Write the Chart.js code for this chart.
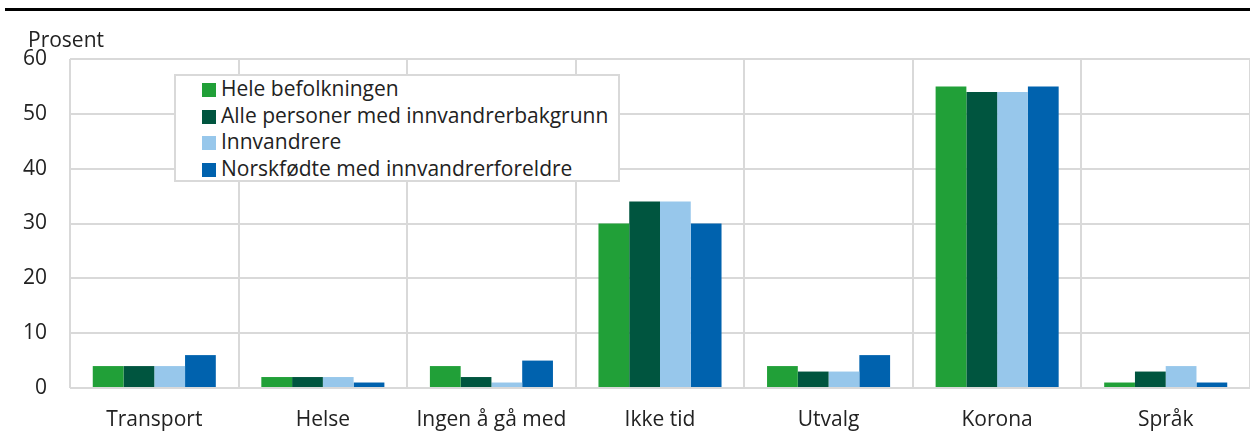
<!DOCTYPE html>
<html>
<head>
<meta charset="utf-8">
<script src="https://cdn.jsdelivr.net/npm/chart.js@4"></script>
<style>
    body { margin: 0; background: #fff; font-family: "Open Sans", sans-serif; color: #222; }
    #wrap { position: relative; width: 1250px; height: 438px; }
    #topline { position: absolute; left: 5px; right: 0; top: 8px; height: 3px; background: #000; }
    #unit { position: absolute; left: 28px; top: 26px; font-size: 21px; line-height: 26px; }
    #legend { position: absolute; left: 174px; top: 74px; width: 442px; height: 104px;
              border: 2px solid #d9d9d9; background: #fff; padding: 0; }
    #legend div { position: absolute; left: 26px; font-size: 21px; line-height: 24px; white-space: nowrap; }
    #legend span { display: inline-block; width: 14px; height: 14px; margin-right: 5px; vertical-align: -1px; }
</style>
</head>
<body>
<div id="wrap">
    <canvas id="barChart" width="1250" height="438"></canvas>
    <div id="topline"></div>
    <div id="unit">Prosent</div>
    <div id="legend"></div>
</div>
<script>
const categories = ["Transport", "Helse", "Ingen å gå med", "Ikke tid", "Utvalg", "Korona", "Språk"];
const seriesNames = ["Hele befolkningen", "Alle personer med innvandrerbakgrunn", "Innvandrere", "Norskfødte med innvandrerforeldre"];
const heleBefolkningen = [4, 2, 4, 30, 4, 55, 1];
const alleInnvandrerbakgrunn = [4, 2, 2, 34, 3, 54, 3];
const innvandrere = [4, 2, 1, 34, 3, 54, 4];
const norskfodte = [6, 1, 5, 30, 6, 55, 1];
const colors = ["#21a038", "#00553f", "#97c7eb", "#0062ae"];

const values = [heleBefolkningen, alleInnvandrerbakgrunn, innvandrere, norskfodte];

const chart = new Chart(document.getElementById("barChart").getContext("2d"), {
    type: "bar",
    data: {
        labels: categories,
        datasets: seriesNames.map((name, i) => ({
            label: name,
            data: values[i],
            backgroundColor: colors[i],
            borderWidth: 0,
            categoryPercentage: 0.73,
            barPercentage: 1
        }))
    },
    options: {
        responsive: false,
        animation: false,
        layout: { padding: { top: 59, right: 0, left: 0, bottom: 0 } },
        plugins: { legend: { display: false }, tooltip: { enabled: false } },
        scales: {
            x: {
                grid: { offset: true, color: "#d9d9d9", lineWidth: 2, drawTicks: false },
                border: { display: false },
                ticks: { padding: 19, color: "#222", font: { family: "Open Sans", size: 21 } },
                afterFit: s => { s.height = 50; }
            },
            y: {
                min: 0, max: 60,
                grid: { color: "#d9d9d9", lineWidth: 2, drawTicks: false },
                border: { display: false },
                ticks: { stepSize: 10, padding: 23, color: "#222", font: { family: "Open Sans", size: 21 } },
                afterFit: s => { s.width = 70; }
            }
        }
    }
});

const legendBox = document.getElementById("legend");
chart.data.datasets.forEach((ds, i) => {
    const row = document.createElement("div");
    row.style.top = (0 + i * 26.7) + "px";
    row.innerHTML = '<span style="background:' + ds.backgroundColor + '"></span>' + ds.label;
    legendBox.appendChild(row);
});
</script>
</body>
</html>
